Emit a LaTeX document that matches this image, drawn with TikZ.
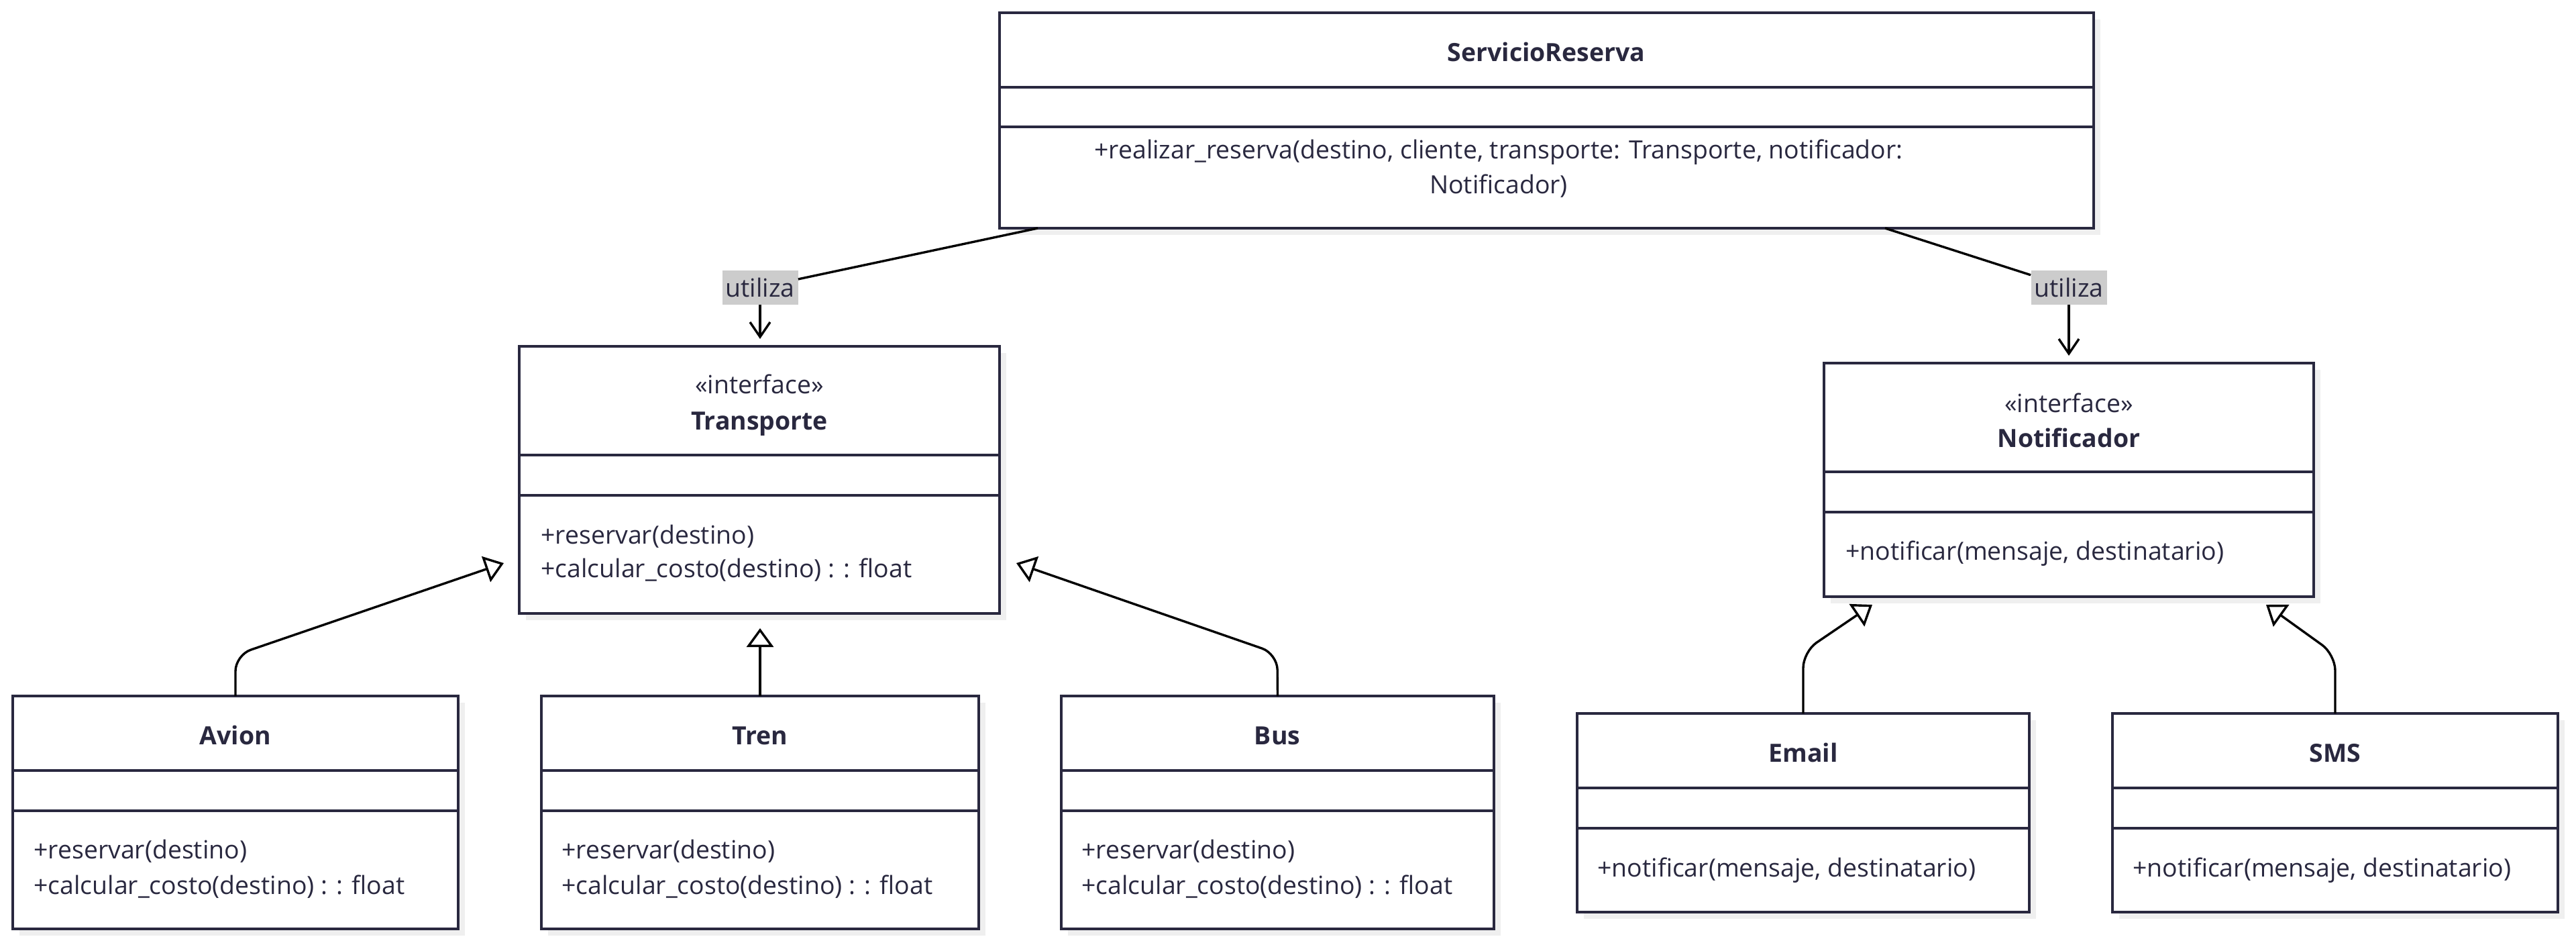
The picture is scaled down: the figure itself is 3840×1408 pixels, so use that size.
\documentclass[tikz,border=0pt]{standalone}
\usepackage{fontspec}
\setmainfont{Open Sans}
\usetikzlibrary{arrows.meta,calc}
\definecolor{navy}{HTML}{29283F}
\definecolor{shadowgray}{HTML}{EFEFEF}
\definecolor{labelbg}{HTML}{CCCCCC}
\newcommand\umlclass[7]{%
  \fill[shadowgray] (#2+10,#3+10) rectangle (#4+10,#5+10);
  \node[classbox, minimum width={(#4-#2)*0.5pt}, minimum height={(#5-#3)*0.5pt}] (#1) at (#2,#3) {};
  \draw[sepline] (#2,#6) -- (#4,#6);
  \draw[sepline] (#2,#7) -- (#4,#7);
}
\begin{document}
\begin{tikzpicture}[x=0.5pt,y=-0.5pt,
  classbox/.style={draw=navy, line width=2.3pt, fill=white, inner sep=0pt, outer sep=0pt, anchor=north west},
  sepline/.style={draw=navy, line width=2.2pt},
  txt/.style={text=navy, font=\fontsize{18.7}{22}\selectfont, inner sep=0pt, anchor=mid},
  meth/.style={txt, anchor=mid west},
  ttl/.style={txt, font=\fontsize{18.7}{22}\selectfont\bfseries},
  edge/.style={draw=black, line width=1.7pt},
  inherit/.style={edge, -{Triangle[open, length=14pt, width=20pt]}, rounded corners=12pt},
  uses/.style={edge, -{Straight Barb[length=11pt, width=15pt]}},
  lbl/.style={fill=labelbg, text=navy, font=\fontsize{18.7}{22}\selectfont, inner xsep=0pt, inner ysep=0pt, minimum width=56.5pt, minimum height=25.5pt}
]
\useasboundingbox (0,0) rectangle (3840,1408);

% classes
\umlclass{srv}{1490}{19}{3121}{340}{130}{189}
\umlclass{trans}{774}{516}{1490}{914}{678}{738}
\umlclass{notif}{2719}{541}{3449}{889}{703}{763}
\umlclass{avion}{19}{1037}{683}{1384}{1148}{1208}
\umlclass{tren}{807}{1037}{1459}{1384}{1148}{1208}
\umlclass{bus}{1582}{1037}{2227}{1384}{1148}{1208}
\umlclass{email}{2351}{1063}{3025}{1359}{1174}{1234}
\umlclass{sms}{3149}{1063}{3813}{1359}{1174}{1234}

% texts
\node[ttl] (srvT) at (2305,86) {ServicioReserva};
\node[txt] (srvM1) at (2234,231) {+realizar\_reserva(destino, cliente, transporte: Transporte, notificador:};
\node[txt] (srvM2) at (2234,283) {Notificador)};

\node[txt] (transS) at (1132,581) {«interface»};
\node[ttl] (transT) at (1132,635) {Transporte};
\node[meth] (transM1) at (806,805) {+reservar(destino)};
\node[meth] (transM2) at (806,855) {+calcular\_costo(destino) : : float};

\node[txt] (notifS) at (3084,609) {«interface»};
\node[ttl] (notifT) at (3084,661) {Notificador};
\node[meth] (notifM1) at (2751,829) {+notificar(mensaje, destinatario)};

\node[ttl] (avionT) at (351,1104) {Avion};
\node[meth] (avionM1) at (50,1274) {+reservar(destino)};
\node[meth] (avionM2) at (50,1327) {+calcular\_costo(destino) : : float};

\node[ttl] (trenT) at (1133,1104) {Tren};
\node[meth] (trenM1) at (837,1274) {+reservar(destino)};
\node[meth] (trenM2) at (837,1327) {+calcular\_costo(destino) : : float};

\node[ttl] (busT) at (1904,1104) {Bus};
\node[meth] (busM1) at (1612,1274) {+reservar(destino)};
\node[meth] (busM2) at (1612,1327) {+calcular\_costo(destino) : : float};

\node[ttl] (emailT) at (2688,1130) {Email};
\node[meth] (emailM1) at (2381,1301) {+notificar(mensaje, destinatario)};

\node[ttl] (smsT) at (3481,1130) {SMS};
\node[meth] (smsM1) at (3179,1301) {+notificar(mensaje, destinatario)};

% "utiliza" associations
\node[lbl] (u1) at (1133,428) {utiliza};
\node[lbl] (u2) at (3084,428) {utiliza};
\coordinate (s1) at (1547,340);
\coordinate (s2) at (2810,340);
\coordinate (tipT) at (1133,505);
\coordinate (tipN) at (3084,530);
\draw[edge] (s1) -- (u1);
\draw[uses] (u1.south) -- (tipT);
\draw[edge] (s2) -- (u2);
\draw[uses] (u2.south) -- (tipN);

% inheritance
\coordinate (cAv) at (351,976);
\coordinate (tAv) at (751,839);
\coordinate (tTr) at (1133,936);
\coordinate (cBu) at (1904,974);
\coordinate (tBu) at (1515,839);
\coordinate (cEm) at (2688,971);
\coordinate (tEm) at (2791,901);
\coordinate (cSm) at (3481,975);
\coordinate (tSm) at (3378,901);
\draw[inherit] (avion.north) -- (cAv) -- (tAv);
\draw[inherit] (tren.north) -- (tTr);
\draw[inherit] (bus.north) -- (cBu) -- (tBu);
\draw[inherit] (email.north) -- (cEm) -- (tEm);
\draw[inherit] (sms.north) -- (cSm) -- (tSm);
\end{tikzpicture}
\end{document}
